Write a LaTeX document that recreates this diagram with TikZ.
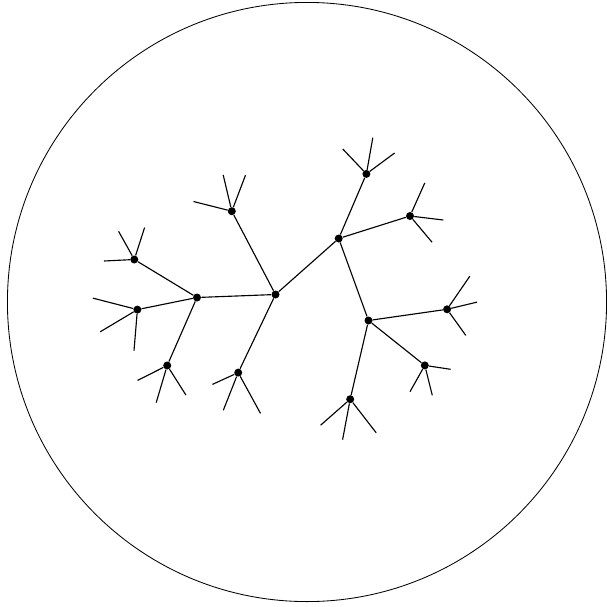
\documentclass[tikz,border=0pt]{standalone}
\usepackage{tikz}
\usetikzlibrary{positioning}
\tikzset{
  vert/.style={circle, fill=black, inner sep=0pt, minimum size=2mm},
  twig/.style={line width=0.8pt}
}
\begin{document}
\begin{tikzpicture}[x=0.025cm, y=-0.025cm]
        \useasboundingbox (0,0) rectangle (607,607);
        % the disc
        \draw[line width=0.6pt] (307,302) circle [radius=7.4875cm];
        % inner vertices
        \node[vert] (r) at (275.5,294.5) {};
        \node[vert] (a) at (197,297.5) {};
        \node[vert] (b) at (338.7,238.5) {};
        \node[vert] (c) at (368.5,320.5) {};
        % outer vertices
        \node[vert] (d) at (231.8,211.2) {};
        \node[vert] (e) at (238.2,372.6) {};
        \node[vert] (a1) at (134.3,259.5) {};
        \node[vert] (a2) at (137.4,309.6) {};
        \node[vert] (a3) at (167.2,365.5) {};
        \node[vert] (b1) at (366.4,173.9) {};
        \node[vert] (b2) at (410,216) {};
        \node[vert] (c1) at (447.1,309.3) {};
        \node[vert] (c2) at (424.8,365.4) {};
        \node[vert] (c3) at (350.2,399.2) {};
        % edges
        \foreach \u/\v in {r/a, r/b, r/d, r/e, a/a1, a/a2, a/a3, b/b1, b/b2, b/c, c/c1, c/c2, c/c3}
          \draw[twig] (\u) -- (\v);
        % leaves
        \foreach \p/\i/\x/\y in {d/1/193.5/201.5, d/2/223.2/175, d/3/245.5/175.2,
            a1/1/104/261, a1/2/118.6/231.3, a1/3/144.6/227.6,
            a2/1/92.8/298.1, a2/2/100.2/331.8, a2/3/134/350.7,
            a3/1/137.5/380.4, a3/2/156.2/402.6, a3/3/185.9/395,
            e/1/212.4/384.4, e/2/223.3/410.3, e/3/260.5/413.4,
            b1/1/342.8/149, b1/2/372.8/137.7, b1/3/394.6/153,
            b2/1/424.8/182.9, b2/2/443.3/220, b2/3/432.1/242.3,
            c1/1/469.8/276.2, c1/2/477.1/302.1, c1/3/465.8/335.4,
            c2/1/450.6/369.3, c2/2/410/391.7, c2/3/432.3/395.3,
            c3/1/320.6/425.2, c3/2/342.6/439.7, c3/3/376.2/432.8} {
          \coordinate (\p-\i) at (\x,\y);
          \draw[twig] (\p) -- (\p-\i);
        }
\end{tikzpicture}
\end{document}
